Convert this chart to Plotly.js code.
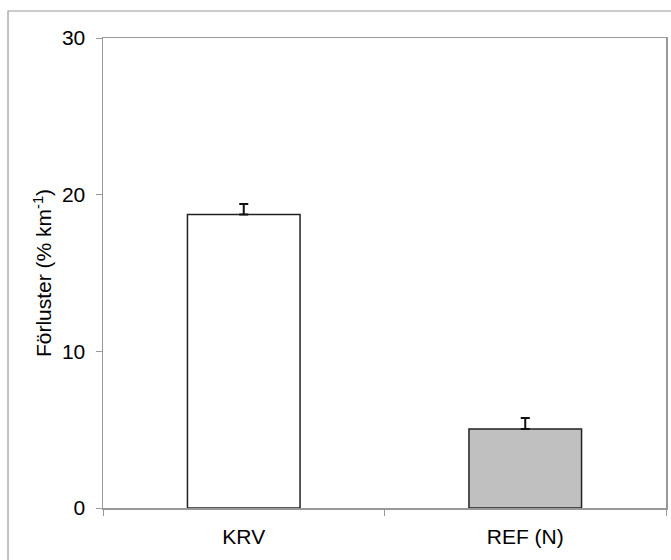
<!DOCTYPE html>
<html>
<head>
<meta charset="utf-8">
<script src="https://cdn.plot.ly/plotly-3.0.1.min.js"></script>
<style>html,body{margin:0;padding:0;background:#fff;}#chart{width:671px;height:560px;}</style>
</head>
<body>
<div id="chart"></div>
<script>
var categories = ["KRV", "REF (N)"];
var values = [18.73, 5.05];
var errors = [0.68, 0.70];
var fills = ["#ffffff", "#c0c0c0"];
var yTicks = [0, 10, 20, 30];

var trace = {
  type: "bar",
  x: categories,
  y: values,
  marker: { color: fills, line: { color: "#222", width: 1.5 } },
  error_y: { type: "data", array: errors, visible: true, color: "#111", thickness: 2, width: 4.5, symmetric: false, arrayminus: [0, 0] },
  hoverinfo: "skip"
};

var layout = {
  width: 671, height: 560,
  margin: { l: 103, r: 5, t: 38, b: 52 },
  paper_bgcolor: "#fff", plot_bgcolor: "#fff",
  bargap: 0.6,
  showlegend: false,
  font: { family: "Liberation Sans, Arial, sans-serif", size: 21, color: "#000" },
  xaxis: {
    type: "category",
    showline: true, linecolor: "#999", linewidth: 1.5, mirror: true,
    ticks: "outside", tickson: "boundaries", ticklen: 6, tickcolor: "#999", tickwidth: 1,
    showgrid: false, zeroline: false,
    ticklabelstandoff: 9,
    tickfont: { size: 21 }
  },
  yaxis: {
    range: [0, 30], tickvals: yTicks, ticktext: yTicks.map(String),
    showline: true, linecolor: "#999", linewidth: 1.5, mirror: true,
    ticks: "outside", ticklen: 6, tickcolor: "#999", tickwidth: 1,
    showgrid: false, zeroline: false,
    ticklabelstandoff: 6,
    tickfont: { size: 21 },
    title: { text: "Förluster (% km<sup>-1</sup>)", font: { size: 21 }, standoff: 4 }
  },
  shapes: [{
    type: "rect", xref: "paper", yref: "paper",
    x0: -0.1687, x1: 1.2, y0: -0.3, y1: 1.0574,
    line: { color: "#999", width: 1.2 }, fillcolor: "rgba(0,0,0,0)", layer: "below"
  }]
};

Plotly.newPlot("chart", [trace], layout, { staticPlot: true, displayModeBar: false });
</script>
</body>
</html>
